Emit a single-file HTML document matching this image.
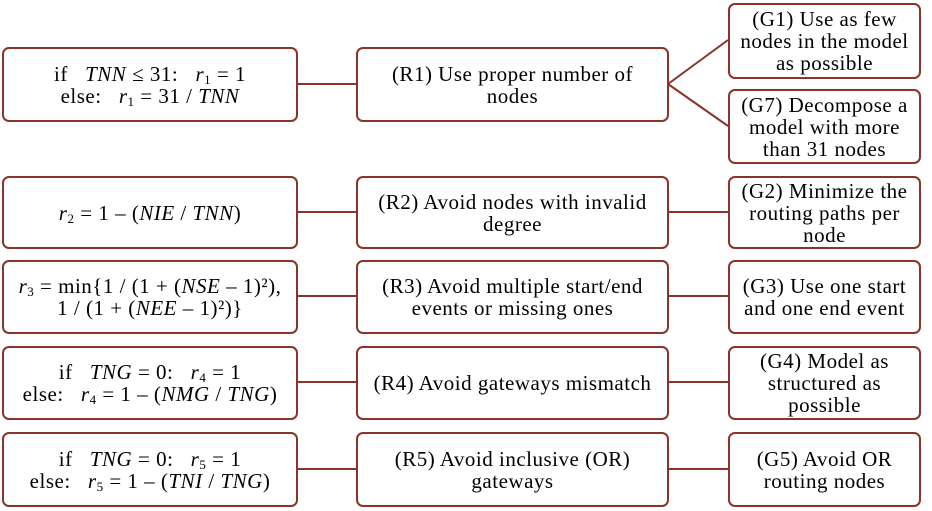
<!DOCTYPE html>
<html><head><meta charset="utf-8"><style>
body{margin:0;width:932px;height:511px;background:#fff;position:relative;overflow:hidden;font-family:"Liberation Serif",serif;font-size:21px;letter-spacing:0.5px;color:#000}
.b{position:absolute;box-sizing:border-box;border:2px solid #8b3328;border-radius:7px;display:flex;align-items:center;justify-content:center;text-align:center;line-height:22px;background:#fff}
sub{font-size:13px;vertical-align:-3px;line-height:0}
sup{line-height:0}
svg{position:absolute;left:0;top:0}
</style></head><body>
<svg width="932" height="511">
<g stroke="#8b3328" stroke-width="2" fill="none">
<line x1="297" y1="84" x2="356" y2="84"/><line x1="668" y1="84" x2="728" y2="40"/><line x1="668" y1="84" x2="728" y2="126"/>
<line x1="297" y1="212" x2="356" y2="212"/><line x1="668" y1="212" x2="728" y2="212"/>
<line x1="297" y1="296" x2="356" y2="296"/><line x1="668" y1="296" x2="728" y2="296"/>
<line x1="297" y1="382" x2="356" y2="382"/><line x1="668" y1="382" x2="728" y2="382"/>
<line x1="297" y1="469" x2="356" y2="469"/><line x1="668" y1="469" x2="728" y2="469"/>
</g></svg>
<div class="b" style="left:2px;top:47px;width:296px;height:75px"><span>if&nbsp;&nbsp; <i>TNN</i>&nbsp;≤ 31:&nbsp;&nbsp; <i>r</i><sub>1</sub>&nbsp;= 1<br>else:&nbsp;&nbsp; <i>r</i><sub>1</sub>&nbsp;= 31 / <i>TNN</i></span></div>
<div class="b" style="left:356px;top:47px;width:313px;height:75px"><span>(R1) Use proper number of<br>nodes</span></div>
<div class="b" style="left:728px;top:3px;width:193px;height:76px"><span>(G1) Use as few<br>nodes in the model<br>as possible</span></div>
<div class="b" style="left:728px;top:89px;width:193px;height:75px"><span>(G7) Decompose a<br>model with more<br>than 31 nodes</span></div>
<div class="b" style="left:2px;top:176px;width:296px;height:73px"><span><i>r</i><sub>2</sub>&nbsp;= 1 – (<i>NIE</i>&nbsp;/ <i>TNN</i>)</span></div>
<div class="b" style="left:356px;top:176px;width:313px;height:73px"><span>(R2) Avoid nodes with invalid<br>degree</span></div>
<div class="b" style="left:728px;top:176px;width:193px;height:73px"><span>(G2) Minimize the<br>routing paths per<br>node</span></div>
<div class="b" style="left:2px;top:260px;width:296px;height:74px"><span><i>r</i><sub>3</sub>&nbsp;= min{1 / (1 + (<i>NSE</i>&nbsp;– 1)²),<br>1 / (1 + (<i>NEE</i>&nbsp;– 1)²)}</span></div>
<div class="b" style="left:356px;top:260px;width:313px;height:74px"><span>(R3) Avoid multiple start/end<br>events or missing ones</span></div>
<div class="b" style="left:728px;top:260px;width:193px;height:74px"><span>(G3) Use one start<br>and one end event</span></div>
<div class="b" style="left:2px;top:346px;width:296px;height:74px"><span>if&nbsp;&nbsp; <i>TNG</i>&nbsp;= 0:&nbsp;&nbsp; <i>r</i><sub>4</sub>&nbsp;= 1<br>else:&nbsp;&nbsp; <i>r</i><sub>4</sub>&nbsp;= 1 – (<i>NMG</i>&nbsp;/ <i>TNG</i>)</span></div>
<div class="b" style="left:356px;top:346px;width:313px;height:74px"><span>(R4) Avoid gateways mismatch</span></div>
<div class="b" style="left:728px;top:346px;width:193px;height:74px"><span>(G4) Model as<br>structured as<br>possible</span></div>
<div class="b" style="left:2px;top:432px;width:296px;height:75px"><span>if&nbsp;&nbsp; <i>TNG</i>&nbsp;= 0:&nbsp;&nbsp; <i>r</i><sub>5</sub>&nbsp;= 1<br>else:&nbsp;&nbsp; <i>r</i><sub>5</sub>&nbsp;= 1 – (<i>TNI</i>&nbsp;/ <i>TNG</i>)</span></div>
<div class="b" style="left:356px;top:432px;width:313px;height:75px"><span>(R5) Avoid inclusive (OR)<br>gateways</span></div>
<div class="b" style="left:728px;top:432px;width:193px;height:75px"><span>(G5) Avoid OR<br>routing nodes</span></div>
</body></html>
